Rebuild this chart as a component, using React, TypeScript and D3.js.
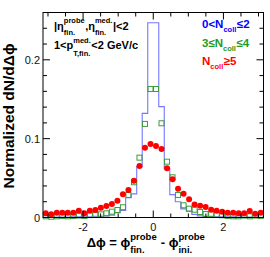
import React, { useEffect, useRef } from 'react';
import * as d3 from 'd3';

const W = 270;
const H = 257;
const NBINS = 40;

// bin contents, 40 bins from -pi to pi
const blueVals = [
  0.0003, 0.0003, 0.0005, 0.0005, 0.0005, 0.0008, 0.0008, 0.001, 0.001, 0.0015, 0.0015, 0.002,
  0.003, 0.006, 0.009, 0.025, 0.03, 0.0645, 0.132, 0.247,
  0.247, 0.1406, 0.062, 0.029, 0.02, 0.011, 0.008, 0.004,
  0.002, 0.0015, 0.0015, 0.001, 0.001, 0.0008, 0.0008, 0.0005, 0.0005, 0.0005, 0.0003, 0.0003,
];
const greenVals = [
  0.0015, 0.001, 0.0015, 0.002, 0.0015, 0.002, 0.0025, 0.002, 0.003, 0.0035,
  0.004, 0.0053, 0.0074, 0.0095, 0.013, 0.0286, 0.0447, 0.0759, 0.1187,
  0.163, 0.163,
  0.1195, 0.0708, 0.051, 0.0286, 0.0155, 0.0112, 0.0099, 0.007, 0.0044,
  0.0044, 0.0035, 0.0028, 0.002, 0.0015, 0.0015, 0.0025, 0.0015, 0.0025, 0.002,
];
const redVals = [
  0.0053, 0.004, 0.0061, 0.0061, 0.0061, 0.0061, 0.0087, 0.0053, 0.0087, 0.0095,
  0.0125, 0.0146, 0.0171, 0.0213, 0.0294, 0.0349, 0.0467, 0.0654,
  0.0886, 0.0933, 0.0907, 0.0869,
  0.0626, 0.0485, 0.0365, 0.03, 0.0232, 0.0165, 0.015, 0.0133, 0.0099, 0.0087,
  0.0074, 0.006, 0.006, 0.0053, 0.0053, 0.0081, 0.0048, 0.006,
];

const xTickLabels = [-2, 0, 2];
const yTickLabels = [0, 0.1, 0.2];

type Piece = { t?: string; sup?: string; sub?: string };

const legendItems: { color: string; pieces: Piece[] }[] = [
  { color: '#0000ff', pieces: [{ t: '0<N' }, { sub: 'coll' }, { t: '≤2' }] },
  { color: '#1f9a1f', pieces: [{ t: '3≤N' }, { sub: 'coll' }, { t: '≤4' }] },
  { color: '#ff0000', pieces: [{ t: 'N' }, { sub: 'coll' }, { t: '≥5' }] },
];
const cutLine1: Piece[] = [{ t: '|η' }, { sup: 'probe', sub: 'fin.' }, { t: ',η' }, { sup: 'med.', sub: 'fin.' }, { t: '|<2' }];
const cutLine2: Piece[] = [{ t: '1<p' }, { sup: 'med.', sub: 'T,fin.' }, { t: '<2 GeV/c' }];
const xTitle: Piece[] = [{ t: 'Δϕ = ϕ' }, { sup: 'probe', sub: 'fin.' }, { t: ' - ϕ' }, { sup: 'probe', sub: 'ini.' }];
const yTitle = 'Normalized dN/dΔϕ';

const FONT = '"Liberation Sans", Arial, Helvetica, sans-serif';

// draws text with stacked super/subscripts, measuring each piece
function richText(parent: any, x: number, y: number, pieces: Piece[], o: any) {
  const g = parent.append('g');
  let cx = 0;
  const put = (s: string, dy: number, size: number) => {
    const t = g.append('text')
      .attr('x', cx).attr('y', dy)
      .style('font-family', FONT)
      .style('font-weight', 'bold')
      .style('font-size', size + 'px')
      .style('white-space', 'pre')
      .attr('fill', o.color || '#000')
      .text(s);
    return (t.node() as SVGTextElement).getComputedTextLength();
  };
  pieces.forEach(p => {
    if (p.t) {
      cx += put(p.t, 0, o.size);
    } else {
      let w = 0;
      if (p.sup) w = Math.max(w, put(p.sup, -o.supDy, o.small));
      if (p.sub) w = Math.max(w, put(p.sub, o.subDy, o.small));
      cx += w + 0.5;
    }
  });
  const x0 = o.anchor === 'middle' ? x - cx / 2 : x;
  g.attr('transform', `translate(${x0},${y})`);
  return g;
}

const App = () => {
  const ref = useRef<SVGSVGElement>(null);

  useEffect(() => {
    const svg = d3.select(ref.current);
    svg.selectAll('*').remove();

    const x = d3.scaleLinear().domain([-Math.PI, Math.PI]).range([43, 263.5]);
    const y = d3.scaleLinear().domain([0, 0.26]).range([217.5, 12.5]);
    const bw = (2 * Math.PI) / NBINS;
    const lo = (i: number) => -Math.PI + i * bw;
    const mid = (i: number) => lo(i) + bw / 2;

    const [x0, x1] = x.range();
    const [y0, y1] = y.range();

    // blue histogram as a step line
    const pts: [number, number][] = [];
    blueVals.forEach((v, i) => { pts.push([lo(i), v]); pts.push([lo(i + 1), v]); });
    const line = d3.line<[number, number]>().x(d => x(d[0])).y(d => y(d[1]));
    svg.append('path')
      .attr('d', line(pts))
      .attr('fill', 'none')
      .attr('stroke', '#5f5fff')
      .attr('stroke-opacity', 0.85)
      .attr('stroke-width', 1.1);

    // green open squares
    svg.append('g').selectAll('rect')
      .data(greenVals)
      .enter()
      .append('rect')
      .attr('x', (d, i) => x(mid(i)) - 2.5)
      .attr('y', d => y(d) - 2.5)
      .attr('width', 5)
      .attr('height', 5)
      .attr('fill', 'none')
      .attr('stroke', '#3c9c3c')
      .attr('stroke-width', 1);

    // red dots
    svg.append('g').selectAll('circle')
      .data(redVals)
      .enter()
      .append('circle')
      .attr('cx', (d, i) => x(mid(i)))
      .attr('cy', d => y(d))
      .attr('r', 3)
      .attr('fill', '#ff0000');

    // frame
    svg.append('rect')
      .attr('x', x0).attr('y', y1)
      .attr('width', x1 - x0).attr('height', y0 - y1)
      .attr('fill', 'none').attr('stroke', '#000').attr('stroke-width', 1);

    // ticks on all four sides
    const tk = svg.append('g').attr('stroke', '#000').attr('stroke-width', 1);
    d3.range(-6, 7).map(k => k * 0.5).forEach(v => {
      const len = v % 2 === 0 ? 7 : 4;
      tk.append('line').attr('x1', x(v)).attr('x2', x(v)).attr('y1', y0).attr('y2', y0 - len);
      tk.append('line').attr('x1', x(v)).attr('x2', x(v)).attr('y1', y1).attr('y2', y1 + len);
    });
    d3.range(0, 14).map(k => k * 0.02).filter(v => v <= 0.26).forEach((v, k) => {
      const len = k % 5 === 0 ? 7 : 4;
      tk.append('line').attr('x1', x0).attr('x2', x0 + len).attr('y1', y(v)).attr('y2', y(v));
      tk.append('line').attr('x1', x1).attr('x2', x1 - len).attr('y1', y(v)).attr('y2', y(v));
    });

    // tick labels
    svg.append('g').selectAll('text')
      .data(xTickLabels)
      .enter()
      .append('text')
      .attr('x', d => x(d))
      .attr('y', y0 + 13)
      .attr('text-anchor', 'middle')
      .style('font-family', FONT)
      .style('font-size', '11px')
      .attr('fill', '#111')
      .text(d => String(d));
    svg.append('g').selectAll('text')
      .data(yTickLabels)
      .enter()
      .append('text')
      .attr('x', x0 - 3)
      .attr('y', d => y(d) + 4)
      .attr('text-anchor', 'end')
      .style('font-family', FONT)
      .style('font-size', '11px')
      .attr('fill', '#111')
      .text(d => String(d));

    // axis titles
    richText(svg, 146, 247, xTitle, { size: 13, small: 9.5, supDy: 7, subDy: 6, anchor: 'middle' });
    const yt = svg.append('g').attr('transform', 'translate(14,116) rotate(-90)');
    richText(yt, 0, 0, [{ t: yTitle }], { size: 15.5, small: 10, supDy: 0, subDy: 0, anchor: 'middle' });

    // cut text
    richText(svg, 54, 30, cutLine1, { size: 11, small: 7.5, supDy: 7, subDy: 5 });
    richText(svg, 54, 49, cutLine2, { size: 11, small: 7.5, supDy: 6, subDy: 7 });

    // legend
    legendItems.forEach((d, i) => {
      richText(svg, 202, 28 + i * 18.5, d.pieces, { size: 11.5, small: 7.5, supDy: 0, subDy: 4, color: d.color });
    });
  }, []);

  return (
    <svg ref={ref} width={W} height={H} style={{ position: 'absolute', left: 0, top: 0, background: '#fff' }} />
  );
};

export default App;
